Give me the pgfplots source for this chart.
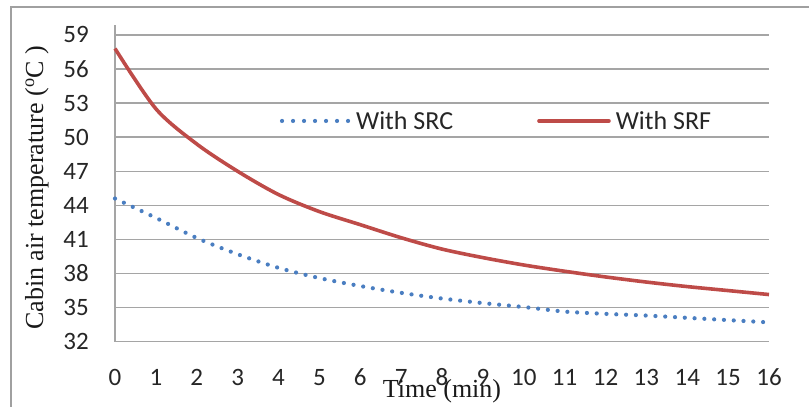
\documentclass[border=0pt]{standalone}
\usepackage{pgfplots}
\pgfplotsset{compat=1.18}
\usepackage{fontspec}
\setmainfont{Liberation Serif}
\newfontfamily\calibri{Carlito}
\definecolor{srcblue}{RGB}{74,126,193}
\definecolor{srfred}{RGB}{190,75,72}
\definecolor{gridgray}{RGB}{165,165,165}
\definecolor{framegray}{RGB}{160,160,160}
\begin{document}
\begin{tikzpicture}
\useasboundingbox (0pt,0pt) rectangle (809pt,407pt);
\draw[framegray, line width=1.5pt] (11pt,-2pt) -- (11pt,400pt) -- (811pt,400pt);
\begin{axis}[
  at={(115pt,65.3pt)}, anchor=south west,
  scale only axis, width=654pt, height=317pt,
  xmin=0, xmax=16, ymin=32, ymax=59.9,
  xtick={0,...,16}, ytick={32,35,...,59},
  ymajorgrids, grid style={gridgray, line width=1.5pt},
  axis x line*=bottom, axis y line*=left,
  axis line style={gridgray, line width=1.5pt, -},
  major tick length=0pt,
  /pgf/number format/assume math mode=true,
  tick label style={font=\calibri\fontsize{25}{30}\selectfont, text=black!85},
  xticklabel style={anchor=base, yshift=-44pt, inner sep=0pt},
  yticklabel style={anchor=east, xshift=-26pt, inner sep=0pt},
  xlabel={Time (min)},
  ylabel={Cabin air temperature (\textsuperscript{o}C )},
  label style={font=\fontsize{26}{30}\selectfont, text=black!90},
  xlabel style={at={(axis description cs:0.5,0)}, anchor=base, yshift=-56pt, inner sep=0pt},
  ylabel style={at={(axis description cs:-0.1193,0.4853)}, anchor=center, inner sep=0pt},
  legend style={at={(axis cs:4.03,51.43)}, anchor=west, draw=none, fill=none,
    inner sep=0pt, font=\calibri\fontsize{26}{30}\selectfont, text=black!85,
    legend columns=2,
    /tikz/every odd column/.append style={column sep=3pt},
    /tikz/every even column/.append style={column sep=82pt}},
  clip=false,
]
\addplot[srcblue, line width=4.2pt, line cap=round, dash pattern=on 0pt off 9.8pt, smooth,
  legend image code/.code={\draw[srcblue, line width=4.2pt, line cap=round, dash pattern=on 0pt off 11pt] (0pt,0pt) -- (67pt,0pt);}]
  coordinates {(0,44.6) (1,42.9) (2,41.13) (3,39.7) (4,38.5) (5,37.6) (6,36.9) (7,36.3) (8,35.8) (9,35.4) (10,35.05) (11,34.65) (12,34.45) (13,34.3) (14,34.1) (15,33.9) (16,33.7)};
\addlegendentry{With SRC}
\addplot[srfred, line width=3.6pt, smooth,
  legend image code/.code={\draw[srfred, line width=3.6pt, line cap=round] (0pt,0pt) -- (70pt,0pt);}]
  coordinates {(0,57.8) (1,52.5) (2,49.4) (3,47.0) (4,44.95) (5,43.45) (6,42.3) (7,41.15) (8,40.15) (9,39.4) (10,38.75) (11,38.2) (12,37.7) (13,37.25) (14,36.85) (15,36.5) (16,36.15)};
\addlegendentry{With SRF}
\end{axis}
\end{tikzpicture}
\end{document}
